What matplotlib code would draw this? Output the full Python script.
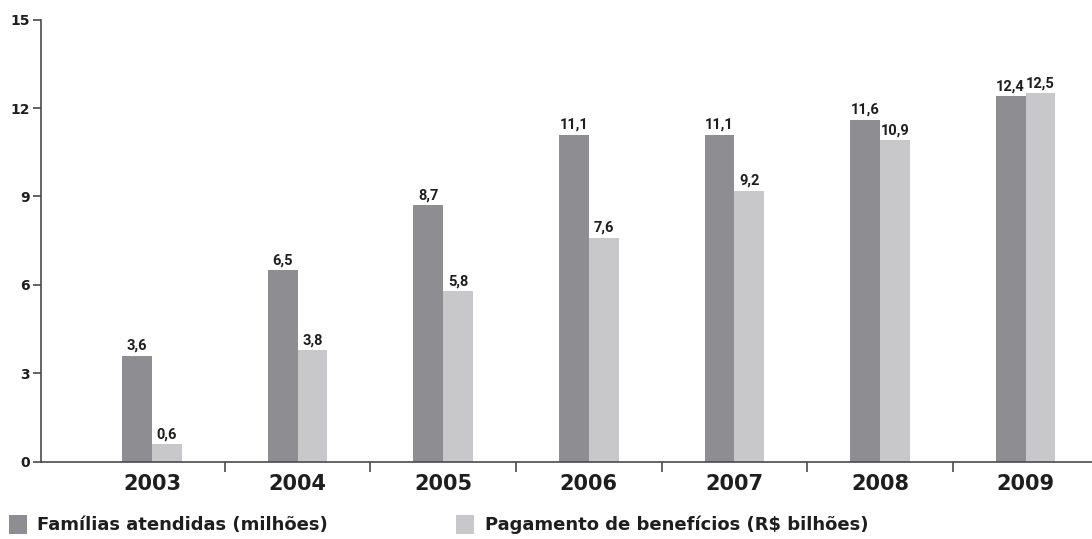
import matplotlib
matplotlib.use("Agg")
import matplotlib.pyplot as plt
from matplotlib.patches import Rectangle
import numpy as np

anos = ["2003", "2004", "2005", "2006", "2007", "2008", "2009"]
familias = [3.6, 6.5, 8.7, 11.1, 11.1, 11.6, 12.4]
pagamentos = [0.6, 3.8, 5.8, 7.6, 9.2, 10.9, 12.5]
rotulos_familias = ["3,6", "6,5", "8,7", "11,1", "11,1", "11,6", "12,4"]
rotulos_pagamentos = ["0,6", "3,8", "5,8", "7,6", "9,2", "10,9", "12,5"]
y_ticks = [0, 3, 6, 9, 12, 15]
legenda = ["Famílias atendidas (milhões)", "Pagamento de benefícios (R$ bilhões)"]

cor_escura = "#8e8e92"
cor_clara = "#c8c8cb"
cor_eixo = "#4a4a4a"
cor_texto = "#1e1e1e"
fonte = ["DejaVu Sans"]
fonte_valores = ["Roboto", "DejaVu Sans"]

fig = plt.figure(figsize=(10.92, 5.39), dpi=100)
ax = fig.add_axes([0.0375, 0.1429, 0.9625, 0.8209])

x = np.arange(len(anos))
w = 0.205
ax.bar(x - w / 2, familias, width=w, color=cor_escura, linewidth=0)
ax.bar(x + w / 2, pagamentos, width=w, color=cor_clara, linewidth=0)

for xi, v, s in zip(x - w / 2, familias, rotulos_familias):
    ax.annotate(s, (xi, v), xytext=(0, 2), textcoords="offset points",
                ha="center", va="bottom", fontsize=10.5, fontweight="bold",
                color=cor_texto, family=fonte_valores)
for xi, v, s in zip(x + w / 2, pagamentos, rotulos_pagamentos):
    ax.annotate(s, (xi, v), xytext=(0, 2), textcoords="offset points",
                ha="center", va="bottom", fontsize=10.5, fontweight="bold",
                color=cor_texto, family=fonte_valores)

ax.set_xlim(-0.762, 6.456)
ax.set_ylim(0, 15)

for s in ["top", "right"]:
    ax.spines[s].set_visible(False)
for s in ["left", "bottom"]:
    ax.spines[s].set_color(cor_eixo)
    ax.spines[s].set_linewidth(1.2)

ax.set_yticks(y_ticks)
ax.set_yticklabels([str(t) for t in y_ticks], fontsize=10, fontweight="bold",
                   color=cor_texto, family=fonte)
ax.tick_params(axis="y", direction="out", length=6, width=1.2, color=cor_eixo, pad=2)

# category separators as minor ticks, year labels as major tick labels
ax.set_xticks(x)
ax.set_xticklabels(anos, fontsize=15, fontweight="bold", color=cor_texto, family=fonte)
ax.tick_params(axis="x", which="major", length=0, pad=9)
ax.set_xticks(x[:-1] + 0.5, minor=True)
ax.tick_params(axis="x", which="minor", direction="out", length=7, width=1.2, color=cor_eixo)

# legend along the bottom edge
for cx, cor, texto in [(0.008, cor_escura, legenda[0]), (0.418, cor_clara, legenda[1])]:
    fig.patches.append(Rectangle((cx, 0.009), 0.0165, 0.035, transform=fig.transFigure,
                                 facecolor=cor, edgecolor="none"))
    fig.text(cx + 0.026, 0.026, texto, fontsize=13, fontweight="bold",
             color=cor_texto, family=fonte, va="center", ha="left")

fig.savefig("out.png", dpi=100)
